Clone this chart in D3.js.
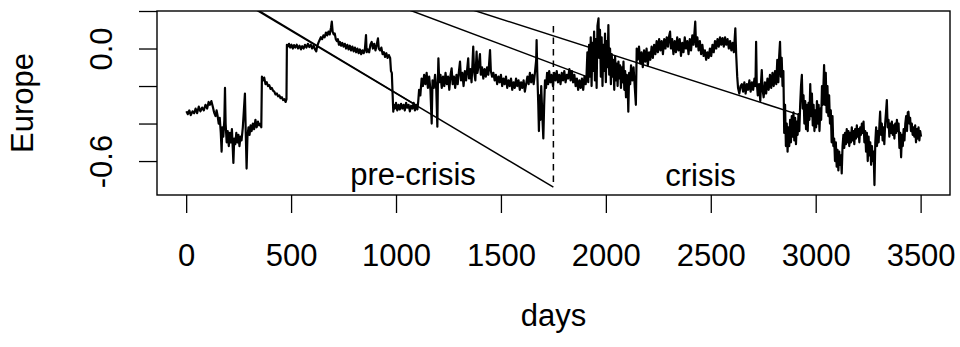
<!DOCTYPE html>
<html>
<head>
<meta charset="utf-8">
<script src="https://cdn.jsdelivr.net/npm/d3@7"></script>
<style>
  body { margin: 0; background: #fff; }
  svg { display: block; font-family: "Liberation Sans", Arial, Helvetica, sans-serif; }
</style>
</head>
<body>
<svg width="960" height="347"></svg>
<script>
// series: [day, value]
const preCrisis = [
  [1,-0.335],[8,-0.35],[15,-0.33],[22,-0.355],[30,-0.335],[38,-0.345],[45,-0.32],[52,-0.345],[60,-0.31],[68,-0.335],
  [76,-0.315],[84,-0.33],[92,-0.3],[100,-0.32],[107,-0.285],[113,-0.3],[120,-0.28],[127,-0.31],[133,-0.34],[140,-0.36],
  [145,-0.33],[150,-0.36],[155,-0.40],[160,-0.37],[165,-0.45],[169,-0.55],[172,-0.42],[177,-0.47],[182,-0.38],[185,-0.21],
  [188,-0.40],[193,-0.50],[198,-0.44],[203,-0.52],[208,-0.45],[213,-0.50],[218,-0.43],[222,-0.53],[225,-0.61],[229,-0.48],
  [234,-0.51],[239,-0.45],[244,-0.50],[249,-0.46],[254,-0.52],[259,-0.47],[264,-0.49],[270,-0.42],[275,-0.33],[280,-0.24],
  [284,-0.45],[288,-0.64],[292,-0.47],[297,-0.42],[302,-0.46],[307,-0.41],[312,-0.44],[318,-0.40],[324,-0.43],[330,-0.38],
  [336,-0.42],[342,-0.39],[348,-0.41],[354,-0.40],[358,-0.42],
  [361,-0.15],[366,-0.17],[372,-0.155],[378,-0.19],[384,-0.18],[390,-0.2],[396,-0.195],[402,-0.215],[408,-0.21],[414,-0.225],
  [420,-0.23],[426,-0.245],[432,-0.24],[438,-0.255],[444,-0.25],[450,-0.265],[456,-0.26],[462,-0.275],[468,-0.27],[474,-0.285],
  [478,-0.27],[480,0.02],[484,0.01],[490,0.025],[496,0.005],[502,0.02],[508,0.0],[514,0.018],[520,0.005],[527,0.02],
  [533,0.0],[540,0.015],[547,-0.005],[553,0.012],[560,0.0],[566,0.02],[573,0.005],[580,0.025],[587,0.008],[594,0.02],
  [600,0.0],[607,0.015],[614,-0.005],[620,-0.015],[624,0.01],[630,0.03],[636,0.045],[642,0.06],[648,0.05],[654,0.07],
  [660,0.06],[666,0.085],[672,0.07],[678,0.09],[684,0.075],[690,0.11],[694,0.143],[698,0.09],[703,0.075],[708,0.08],
  [713,0.05],[718,0.04],[723,0.05],[728,0.02],[733,0.035],[738,0.015],[744,0.03],[750,0.01],[756,0.025],[762,0.0],
  [768,0.02],[774,-0.005],[780,0.015],[786,-0.01],[792,0.01],[798,-0.015],[804,0.005],[810,-0.02],[816,0.0],[822,-0.025],
  [828,-0.005],[834,-0.03],[840,-0.01],[846,-0.025],[852,0.0],[857,0.072],[860,-0.02],[866,-0.005],[872,-0.02],[878,0.02],
  [884,0.035],[890,0.0],[896,0.025],[902,-0.01],[908,0.02],[914,0.054],[918,0.0],[924,-0.01],[930,0.005],[936,-0.03],
  [942,-0.02],[948,-0.045],[954,-0.025],[960,-0.05],[966,-0.035],[972,-0.05],[976,-0.12],[980,-0.13],[984,-0.25],[987,-0.337],
  [990,-0.30],[995,-0.32],[1000,-0.29],[1006,-0.33],[1012,-0.30],[1018,-0.325],[1024,-0.295],[1030,-0.32],[1036,-0.30],[1042,-0.33],
  [1048,-0.29],[1054,-0.315],[1060,-0.30],[1066,-0.335],[1072,-0.305],[1078,-0.32],[1084,-0.29],[1090,-0.33],[1096,-0.30],[1102,-0.325],
  [1106,-0.28],[1110,-0.22],[1116,-0.25],[1122,-0.16],[1128,-0.20],[1134,-0.14],[1140,-0.19],[1146,-0.13],[1152,-0.21],[1158,-0.15],
  [1164,-0.22],[1170,-0.40],[1174,-0.17],[1180,-0.21],[1186,-0.14],[1192,-0.22],[1197,-0.417],[1200,-0.15],[1202,-0.052],[1206,-0.18],
  [1212,-0.14],[1218,-0.21],[1224,-0.15],[1230,-0.20],[1236,-0.13],[1242,-0.19],[1248,-0.15],[1254,-0.22],[1260,-0.14],[1265,-0.106],
  [1270,-0.19],[1276,-0.15],[1282,-0.21],[1288,-0.14],[1294,-0.19],[1300,-0.12],[1305,-0.07],[1310,-0.17],[1316,-0.13],[1322,-0.20],
  [1328,-0.12],[1334,-0.17],[1340,-0.10],[1344,-0.052],[1348,-0.16],[1354,-0.11],[1360,-0.18],[1364,-0.09],[1368,0.01],[1372,-0.12],
  [1378,-0.17],[1384,-0.017],[1388,-0.13],[1394,-0.09],[1400,-0.03],[1404,-0.14],[1410,-0.10],[1416,-0.16],[1422,-0.11],[1428,-0.15],
  [1434,-0.10],[1440,-0.14],[1448,-0.008],[1452,-0.12],[1458,-0.15],[1464,-0.13],[1470,-0.17],[1476,-0.14],[1482,-0.19],[1488,-0.15],
  [1494,-0.18],[1500,-0.14],[1506,-0.20],[1512,-0.16],[1518,-0.19],[1524,-0.15],[1530,-0.21],[1536,-0.17],[1542,-0.20],[1548,-0.16],
  [1554,-0.22],[1560,-0.18],[1566,-0.21],[1572,-0.16],[1578,-0.20],[1584,-0.17],[1590,-0.22],[1596,-0.18],[1602,-0.21],[1608,-0.17],
  [1614,-0.23],[1620,-0.19],[1626,-0.15],[1632,-0.19],[1638,-0.13],[1644,-0.18],[1650,-0.14],[1656,-0.19],[1662,-0.13],[1668,-0.06],
  [1670,0.045],[1673,-0.12],[1678,-0.30],[1681,-0.44],[1684,-0.25],[1688,-0.38],[1692,-0.20],[1697,-0.35],[1702,-0.479],[1706,-0.30],
  [1710,-0.17],[1715,-0.21],[1720,-0.13],[1725,-0.19],[1730,-0.12],[1736,-0.18],[1742,-0.14],[1748,-0.20]
];

const crisis = [
  [1754,-0.13],[1760,-0.17],[1766,-0.12],[1772,-0.18],[1778,-0.14],[1784,-0.19],[1790,-0.13],[1796,-0.17],[1802,-0.12],[1808,-0.18],
  [1814,-0.14],[1820,-0.16],[1826,-0.11],[1832,-0.17],[1838,-0.12],[1844,-0.18],[1850,-0.14],[1856,-0.20],[1862,-0.16],[1868,-0.22],
  [1874,-0.17],[1880,-0.21],[1886,-0.16],[1892,-0.22],[1898,-0.15],[1904,-0.19],[1908,-0.14],[1912,-0.02],[1916,-0.18],[1920,0.02],
  [1924,-0.15],[1928,0.06],[1932,-0.20],[1936,0.03],[1940,-0.12],[1944,0.09],[1948,-0.17],[1952,0.05],[1956,-0.21],[1960,0.12],
  [1965,0.161],[1968,-0.05],[1972,0.10],[1976,-0.15],[1980,0.06],[1984,-0.20],[1988,0.02],[1992,-0.12],[1996,0.08],[2000,-0.18],
  [2004,0.04],[2008,-0.10],[2012,0.125],[2016,-0.14],[2020,0.0],[2024,-0.19],[2028,-0.03],[2032,-0.15],[2036,-0.06],[2040,-0.22],
  [2044,-0.04],[2048,-0.17],[2052,-0.08],[2056,-0.20],[2060,-0.07],[2064,-0.16],[2068,-0.09],[2072,-0.21],[2076,-0.10],[2080,-0.18],
  [2084,-0.07],[2088,-0.22],[2092,-0.12],[2096,-0.26],[2100,-0.14],[2104,-0.20],[2107,-0.337],[2111,-0.13],[2116,-0.19],[2120,-0.09],
  [2126,-0.17],[2132,-0.10],[2138,-0.21],[2143,-0.30],[2147,0.0],[2152,-0.06],[2158,0.01],[2164,-0.08],[2170,-0.02],[2176,-0.10],
  [2182,-0.01],[2188,-0.07],[2194,0.0],[2200,-0.09],[2206,-0.02],[2212,-0.06],[2218,0.01],[2224,-0.05],[2230,0.02],[2236,-0.03],
  [2242,0.04],[2248,-0.02],[2254,0.05],[2260,-0.01],[2266,0.04],[2272,-0.03],[2278,0.05],[2284,0.0],[2290,0.06],[2296,0.01],
  [2302,0.07],[2306,0.09],[2310,0.0],[2316,0.05],[2322,-0.03],[2328,0.04],[2334,-0.02],[2340,0.06],[2346,-0.01],[2352,0.05],
  [2358,-0.04],[2364,0.03],[2370,-0.02],[2376,0.06],[2382,0.0],[2388,0.04],[2394,-0.03],[2400,0.05],[2406,-0.01],[2412,0.07],
  [2418,0.02],[2426,0.143],[2430,0.01],[2436,0.06],[2442,-0.01],[2448,0.04],[2454,-0.03],[2460,0.02],[2466,-0.04],[2472,-0.01],
  [2478,-0.06],[2484,-0.02],[2490,-0.05],[2496,0.0],[2502,-0.04],[2508,0.02],[2514,-0.02],[2520,0.04],[2526,0.0],[2532,0.05],
  [2538,0.01],[2544,0.06],[2550,0.02],[2556,0.055],[2562,0.01],[2568,0.06],[2574,0.02],[2580,0.05],[2586,0.0],[2592,0.04],
  [2598,-0.01],[2604,0.03],[2610,-0.02],[2617,0.108],[2621,-0.03],[2626,-0.15],[2630,-0.21],[2636,-0.24],[2642,-0.20],[2648,-0.19],
  [2654,-0.23],[2660,-0.18],[2666,-0.24],[2672,-0.19],[2678,-0.22],[2684,-0.17],[2690,-0.23],[2696,-0.18],[2702,-0.22],[2708,-0.16],
  [2713,-0.20],[2716,0.036],[2719,-0.18],[2724,-0.25],[2730,-0.19],[2736,-0.28],[2740,-0.17],[2743,-0.115],[2747,-0.22],[2752,-0.26],
  [2758,-0.18],[2764,-0.24],[2770,-0.16],[2776,-0.22],[2782,-0.14],[2788,-0.21],[2794,-0.13],[2800,-0.20],[2806,-0.12],[2812,-0.19],
  [2817,-0.06],[2822,-0.18],[2826,-0.04],[2830,0.036],[2834,-0.15],[2838,-0.05],[2842,-0.20],[2846,-0.12],[2850,-0.45],[2854,-0.30],
  [2858,-0.52],[2862,-0.40],[2866,-0.55],[2870,-0.42],[2874,-0.52],[2878,-0.38],[2882,-0.50],[2886,-0.36],[2890,-0.47],[2894,-0.34],
  [2898,-0.49],[2902,-0.37],[2906,-0.51],[2910,-0.39],[2914,-0.46],[2918,-0.35],[2922,-0.44],[2926,-0.30],[2930,-0.20],[2934,-0.141],
  [2938,-0.32],[2942,-0.25],[2946,-0.40],[2950,-0.28],[2954,-0.43],[2958,-0.30],[2962,-0.44],[2966,-0.29],[2970,-0.38],[2974,-0.19],
  [2978,-0.36],[2982,-0.24],[2986,-0.41],[2990,-0.30],[2994,-0.44],[2998,-0.33],[3002,-0.42],[3006,-0.28],[3010,-0.40],[3014,-0.30],
  [3018,-0.44],[3022,-0.32],[3026,-0.38],[3030,-0.20],[3034,-0.30],[3040,-0.088],[3044,-0.30],[3048,-0.13],[3052,-0.34],[3056,-0.20],
  [3060,-0.36],[3064,-0.25],[3068,-0.40],[3072,-0.33],[3076,-0.50],[3080,-0.36],[3084,-0.52],[3088,-0.48],[3092,-0.60],[3096,-0.50],
  [3100,-0.63],[3104,-0.54],[3108,-0.65],[3112,-0.55],[3116,-0.62],[3120,-0.57],[3124,-0.666],[3128,-0.52],[3132,-0.46],[3136,-0.53],
  [3140,-0.45],[3144,-0.51],[3148,-0.43],[3152,-0.50],[3156,-0.44],[3160,-0.52],[3164,-0.45],[3168,-0.50],[3172,-0.42],[3176,-0.49],
  [3180,-0.44],[3184,-0.51],[3188,-0.43],[3192,-0.48],[3196,-0.41],[3200,-0.47],[3204,-0.43],[3208,-0.50],[3212,-0.42],[3216,-0.46],
  [3220,-0.40],[3224,-0.45],[3228,-0.39],[3232,-0.50],[3236,-0.44],[3240,-0.55],[3244,-0.45],[3248,-0.60],[3252,-0.47],[3256,-0.57],
  [3260,-0.50],[3264,-0.62],[3268,-0.52],[3272,-0.60],[3276,-0.55],[3280,-0.728],[3284,-0.50],[3288,-0.42],[3292,-0.52],[3296,-0.44],
  [3300,-0.50],[3304,-0.40],[3307,-0.337],[3311,-0.46],[3315,-0.40],[3319,-0.49],[3323,-0.42],[3327,-0.51],[3331,-0.40],[3335,-0.34],
  [3339,-0.275],[3343,-0.42],[3347,-0.38],[3351,-0.47],[3355,-0.40],[3359,-0.45],[3363,-0.39],[3367,-0.46],[3371,-0.41],[3375,-0.48],
  [3379,-0.40],[3383,-0.45],[3387,-0.38],[3391,-0.44],[3395,-0.40],[3399,-0.53],[3403,-0.45],[3407,-0.58],[3411,-0.46],[3415,-0.52],
  [3419,-0.43],[3423,-0.49],[3427,-0.40],[3431,-0.36],[3435,-0.44],[3439,-0.34],[3442,-0.337],[3446,-0.40],[3450,-0.37],[3454,-0.44],
  [3458,-0.40],[3462,-0.46],[3466,-0.42],[3470,-0.47],[3474,-0.41],[3478,-0.50],[3482,-0.43],[3486,-0.48],[3490,-0.42],[3494,-0.49],
  [3498,-0.44],[3502,-0.47]
];

// straight segments drawn over the series: [day0, value0, day1, value1]
const trendLines = [
  [300, 0.228, 1750, -0.739],
  [300, 0.233, 1100, -0.305],
  [1000, 0.232, 1909, -0.150],
  [1300, 0.229, 2926, -0.355]
];
const breakDay = 1750;
const breakRange = [0.12, -0.739];
const periodLabels = [
  {text: 'pre-crisis', day: 1081, value: -0.728},
  {text: 'crisis', day: 2451, value: -0.731}
];
const xTicks = [0, 500, 1000, 1500, 2000, 2500, 3000, 3500];
const yTicks = [-0.6, -0.4, -0.2, 0.0, 0.2];
const yLabelled = [-0.6, 0.0];
const xTitle = 'days';
const yTitle = 'Europe';

const box = {left: 157, right: 950, top: 11, bottom: 195};
const fontSize = 31;

const svg = d3.select('svg');
const x = d3.scaleLinear().domain([-139, 3640]).range([box.left, box.right]);
const y = d3.scaleLinear().domain([-0.781, 0.2]).range([box.bottom, box.top]);

svg.append('rect')
  .attr('width', 960).attr('height', 347).attr('fill', '#fff');

svg.append('clipPath').attr('id', 'plot-clip')
  .append('rect')
  .attr('x', box.left).attr('y', box.top)
  .attr('width', box.right - box.left)
  .attr('height', box.bottom - box.top);

const plot = svg.append('g').attr('clip-path', 'url(#plot-clip)');

// the series
const line = d3.line().x(d => x(d[0])).y(d => y(d[1]));
plot.append('path')
  .datum(preCrisis.concat(crisis))
  .attr('d', line)
  .attr('fill', 'none')
  .attr('stroke', '#000')
  .attr('stroke-width', 2.2)
  .attr('stroke-linejoin', 'round');

// trend segments
plot.selectAll('.trend')
  .data(trendLines)
  .enter()
  .append('line')
  .attr('class', 'trend')
  .attr('x1', d => x(d[0]))
  .attr('y1', d => y(d[1]))
  .attr('x2', d => x(d[2]))
  .attr('y2', d => y(d[3]))
  .attr('stroke', '#000')
  .attr('stroke-width', 1.5);

// dashed break between the two periods
plot.append('line')
  .attr('x1', x(breakDay)).attr('x2', x(breakDay))
  .attr('y1', y(breakRange[0])).attr('y2', y(breakRange[1]))
  .attr('stroke', '#000')
  .attr('stroke-width', 1.5)
  .attr('stroke-dasharray', '6.5,5');

svg.selectAll('.period')
  .data(periodLabels)
  .enter()
  .append('text')
  .attr('class', 'period')
  .attr('x', d => x(d.day))
  .attr('y', d => y(d.value))
  .attr('text-anchor', 'middle')
  .attr('font-size', fontSize)
  .text(d => d.text);

// axes
const xAxis = svg.append('g')
  .attr('transform', `translate(0,${box.bottom})`)
  .call(d3.axisBottom(x).tickValues(xTicks).tickSize(18).tickFormat(d3.format('d')));
xAxis.select('.domain').remove();
xAxis.selectAll('line').attr('stroke', '#000').attr('stroke-width', 1.3);
xAxis.selectAll('text')
  .attr('y', 71).attr('dy', null)
  .attr('font-size', fontSize)
  .attr('font-family', null)
  .attr('fill', '#000');

const yAxis = svg.append('g')
  .attr('transform', `translate(${box.left},0)`)
  .call(d3.axisLeft(y).tickValues(yTicks).tickSize(18)
    .tickFormat(d => yLabelled.some(v => Math.abs(v - d) < 1e-9) ? d.toFixed(1) : ''));
yAxis.select('.domain').remove();
yAxis.selectAll('line').attr('stroke', '#000').attr('stroke-width', 1.3);
yAxis.selectAll('text')
  .attr('x', null).attr('dy', null)
  .attr('transform', 'translate(-45,0) rotate(-90)')
  .attr('text-anchor', 'middle')
  .attr('font-size', fontSize)
  .attr('font-family', null)
  .attr('fill', '#000');

// frame
svg.append('rect')
  .attr('x', box.left).attr('y', box.top)
  .attr('width', box.right - box.left)
  .attr('height', box.bottom - box.top)
  .attr('fill', 'none')
  .attr('stroke', '#000')
  .attr('stroke-width', 1.4);

// titles
svg.append('text')
  .attr('x', (box.left + box.right) / 2)
  .attr('y', 326)
  .attr('text-anchor', 'middle')
  .attr('font-size', fontSize)
  .text(xTitle);

svg.append('text')
  .attr('transform', `translate(33,${(box.top + box.bottom) / 2}) rotate(-90)`)
  .attr('text-anchor', 'middle')
  .attr('font-size', fontSize)
  .text(yTitle);
</script>
</body>
</html>
